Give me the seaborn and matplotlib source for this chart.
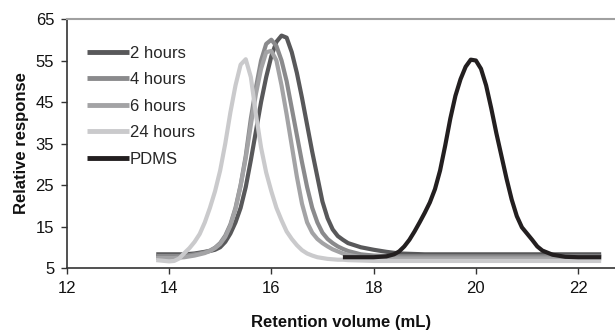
import numpy as np
import pandas as pd
import matplotlib
matplotlib.use("Agg")
import matplotlib.pyplot as plt
import seaborn as sns
from matplotlib.lines import Line2D

# ---- data ----
series_names = ["2 hours", "4 hours", "6 hours", "24 hours", "PDMS"]

x_samples = [13.75, 14.0, 14.1, 14.2, 14.3, 14.4, 14.5, 14.6, 14.7, 14.8, 14.9,
             15.0, 15.1, 15.2, 15.3, 15.4, 15.5, 15.6, 15.7, 15.8, 15.9,
             16.0, 16.1, 16.2, 16.3, 16.4, 16.5, 16.6, 16.7, 16.8, 16.9,
             17.0, 17.1, 17.2, 17.3, 17.4, 17.5, 17.75, 18.0, 18.25, 18.5,
             19.0, 20.0, 21.0, 22.0, 22.45]

y_2h = [8.3, 8.3, 8.3, 8.3, 8.3, 8.4, 8.5, 8.7, 8.9, 9.1, 9.4,
        10.0, 11.3, 13.3, 16.0, 19.5, 24.5, 31.0, 38.0, 45.0, 51.0,
        56.0, 59.5, 61.0, 60.5, 57.0, 52.0, 46.0, 39.5, 33.0, 27.0,
        21.0, 17.0, 14.3, 12.7, 11.8, 11.0, 10.0, 9.4, 8.9, 8.5,
        8.3, 8.3, 8.3, 8.3, 8.3]

y_4h = [7.9, 7.9, 7.9, 7.9, 8.0, 8.1, 8.3, 8.5, 8.8, 9.2, 9.9,
        11.0, 12.8, 15.5, 19.5, 25.0, 32.0, 41.0, 48.5, 55.0, 59.0,
        60.0, 58.5, 55.0, 50.0, 43.5, 37.0, 30.5, 24.5, 19.5, 16.0,
        13.5, 12.0, 11.0, 10.2, 9.6, 9.1, 8.3, 8.0, 7.9, 7.8,
        7.8, 7.8, 7.8, 7.8, 7.8]

y_6h = [7.4, 7.4, 7.4, 7.5, 7.6, 7.8, 8.0, 8.3, 8.6, 9.1, 9.8,
        10.8, 12.5, 15.2, 19.2, 24.8, 31.5, 39.5, 47.0, 53.0, 57.0,
        57.3, 55.0, 49.0, 42.0, 34.5, 27.0, 20.5, 16.0, 13.5, 12.0,
        11.0, 10.2, 9.5, 9.0, 8.5, 8.2, 7.6, 7.4, 7.3, 7.3,
        7.3, 7.3, 7.3, 7.3, 7.3]

y_24h = [6.9, 6.6, 6.7, 7.3, 8.6, 9.8, 11.3, 13.2, 16.0, 19.5, 23.5,
         28.5, 35.0, 42.5, 49.0, 54.0, 55.3, 51.0, 42.0, 34.0, 28.0,
         23.5, 19.5, 16.5, 13.8, 12.0, 10.5, 9.3, 8.5, 8.0, 7.6,
         7.4, 7.2, 7.1, 7.0, 7.0, 6.9, 6.8, 6.7, 6.7, 6.7,
         6.7, 6.7, 6.7, 6.7, 6.7]

x_pdms = [17.4, 17.75, 18.0, 18.25, 18.4, 18.5, 18.6, 18.7, 18.8, 18.9,
          19.0, 19.1, 19.2, 19.3, 19.4, 19.5, 19.6, 19.7, 19.8, 19.9,
          20.0, 20.1, 20.2, 20.3, 20.4, 20.5, 20.6, 20.7, 20.8, 20.9,
          21.0, 21.1, 21.2, 21.3, 21.4, 21.5, 21.75, 22.0, 22.45]
y_pdms = [7.6, 7.6, 7.6, 7.8, 8.3, 9.0, 10.2, 11.8, 13.8, 16.0,
          18.3, 20.8, 24.0, 28.5, 34.5, 41.0, 46.5, 50.5, 53.5, 55.2,
          55.0, 53.0, 49.0, 43.5, 37.5, 32.0, 26.5, 21.5, 17.5, 14.8,
          13.3, 11.8, 10.2, 9.2, 8.7, 8.2, 7.7, 7.6, 7.6]

x_ticks = [12, 14, 16, 18, 20, 22]
y_ticks = [5, 15, 25, 35, 45, 55, 65]

colors = {"2 hours": "#58585a", "4 hours": "#8a8a8c", "6 hours": "#a3a3a5",
          "24 hours": "#cacacc", "PDMS": "#231f20"}

# ---- long-form table ----
frames = []
for name, ys in zip(series_names[:4], [y_2h, y_4h, y_6h, y_24h]):
    frames.append(pd.DataFrame({"x": x_samples, "y": ys, "series": name}))
frames.append(pd.DataFrame({"x": x_pdms, "y": y_pdms, "series": "PDMS"}))
df = pd.concat(frames, ignore_index=True)

sns.set_style("white")
plt.rcParams["font.family"] = ["Liberation Sans", "DejaVu Sans"]

FS = 12

fig = plt.figure(figsize=(6.15, 3.31), dpi=100)
ax = fig.add_axes([0.1085, 0.1903, 0.8915, 0.7523])

sns.lineplot(data=df, x="x", y="y", hue="series", hue_order=series_names,
             palette=colors, estimator=None, sort=False, linewidth=3.0,
             ax=ax, legend=False)
for ln in ax.lines:
    ln.set_solid_capstyle("butt")
    ln.set_solid_joinstyle("round")

ax.set_xlim(12, 22.72)
ax.set_ylim(5, 65)
ax.set_xticks(x_ticks)
ax.set_yticks(y_ticks)
ax.tick_params(axis="both", which="both", direction="out", length=4, width=1.0,
               color="#333333", labelsize=FS, labelcolor="#111111",
               bottom=True, left=True)
ax.tick_params(axis="x", pad=5)
ax.tick_params(axis="y", pad=5)

for side in ["left", "bottom"]:
    ax.spines[side].set_color("#333333")
    ax.spines[side].set_linewidth(1.2)
ax.spines["top"].set_color("#a0a0a0")
ax.spines["top"].set_linewidth(1.5)
ax.spines["right"].set_visible(False)

ax.set_xlabel("Retention volume (mL)", fontsize=FS, fontweight="bold",
              color="#111111", labelpad=14)
ax.set_ylabel("Relative response", fontsize=FS, fontweight="bold",
              color="#111111", labelpad=5)

handles = [Line2D([0], [0], color=colors[n], lw=3.5, solid_capstyle="butt")
           for n in series_names]
leg = ax.legend(handles, series_names, loc="upper left",
                bbox_to_anchor=(0.037, 0.893), frameon=False, fontsize=FS,
                handlelength=2.5, handletextpad=0.05, labelspacing=0.69,
                borderaxespad=0, borderpad=0)

fig.savefig("out.png", dpi=100)
